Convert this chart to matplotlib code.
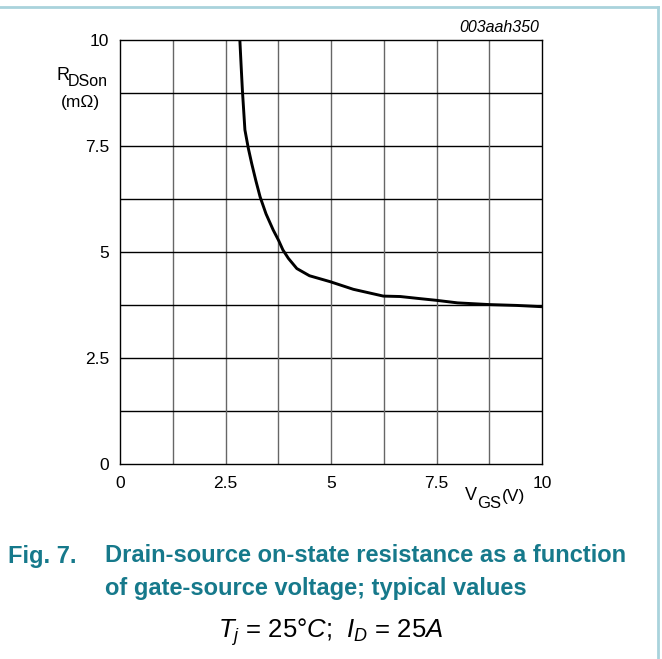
import matplotlib
matplotlib.use("Agg")
import matplotlib.pyplot as plt
from matplotlib.lines import Line2D

plt.rcParams['font.family'] = ['Liberation Sans', 'DejaVu Sans']
plt.rcParams['mathtext.fontset'] = 'custom'
plt.rcParams['mathtext.rm'] = 'Liberation Sans'
plt.rcParams['mathtext.it'] = 'Liberation Sans:italic'

# curve: V_GS (V) vs R_DSon (mOhm)
vgs = [2.84, 2.87, 2.90, 2.96, 3.04, 3.12, 3.22, 3.32, 3.46, 3.63, 3.76, 3.86, 3.99,
       4.19, 4.49, 4.98, 5.53, 6.24, 6.64, 7.11, 7.5, 8.0, 8.75, 9.4, 10.0]
rds = [10.0, 9.4, 8.82, 7.88, 7.45, 7.09, 6.68, 6.30, 5.90, 5.52, 5.27, 5.05, 4.85,
       4.61, 4.44, 4.30, 4.12, 3.96, 3.95, 3.90, 3.86, 3.80, 3.76, 3.74, 3.71]

xticks = [0, 2.5, 5, 7.5, 10]
yticks = [0, 2.5, 5, 7.5, 10]
xtick_labels = ['0', '2.5', '5', '7.5', '10']
ytick_labels = ['0', '2.5', '5', '7.5', '10']

teal = '#16798b'
W, H = 662, 659


def px(x, y):
    # pixel position (from top left) to figure fraction
    return x / W, 1 - y / H


fig = plt.figure(figsize=(6.62, 6.59), dpi=100)
ax = fig.add_axes([120/W, 1 - 464/H, 422/W, 424/H])

ax.set_xlim(0, 10)
ax.set_ylim(0, 10)

# grid every 1.25
for i in range(1, 8):
    ax.axvline(i * 1.25, color='#666666', linewidth=1.0, zorder=1)
    ax.axhline(i * 1.25, color='black', linewidth=1.0, zorder=1)

ax.plot(vgs, rds, color='black', linewidth=2.1, zorder=3, solid_capstyle='butt')

for s in ax.spines.values():
    s.set_linewidth(1.0)
    s.set_color('black')

ax.set_xticks(xticks)
ax.set_xticklabels(xtick_labels, fontsize=12.5)
ax.set_yticks(yticks)
ax.set_yticklabels(ytick_labels, fontsize=12.5)
ax.tick_params(axis='x', length=0, pad=9)
ax.tick_params(axis='y', length=0, pad=8)

# y axis label
fig.text(*px(57, 75), 'R', fontsize=13, ha='left', va='center')
fig.text(*px(68, 81), 'DSon', fontsize=11.5, ha='left', va='center')
fig.text(*px(80, 102), '(m\u03a9)', fontsize=12.5, ha='center', va='center')

# x axis label
fig.text(*px(465, 495), 'V', fontsize=13, ha='left', va='center')
fig.text(*px(477, 503), 'GS', fontsize=12, ha='left', va='center')
fig.text(*px(502, 496), '(V)', fontsize=12.5, ha='left', va='center')

fig.text(*px(539, 28), '003aah350', fontsize=11.5, style='italic', ha='right', va='center')

# caption
fig.text(*px(8, 556), 'Fig. 7.', fontsize=17, fontweight='bold', color=teal,
         ha='left', va='center')
fig.text(*px(105, 556), 'Drain-source on-state resistance as a function',
         fontsize=17, fontweight='bold', color=teal, ha='left', va='center')
fig.text(*px(105, 589), 'of gate-source voltage; typical values',
         fontsize=17, fontweight='bold', color=teal, ha='left', va='center')
fig.text(*px(331, 632), '$T_j$ = 25\u00b0$C$;  $I_D$ = 25$A$',
         fontsize=18.5, ha='center', va='center')

# light border at top and right
fig.add_artist(Line2D([0, 658/W], [1 - 7/H, 1 - 7/H], color='#a9d3dc', linewidth=2))
fig.add_artist(Line2D([658/W, 658/W], [0, 1 - 7/H], color='#a9d3dc', linewidth=2))

fig.savefig('out.png', dpi=100)
